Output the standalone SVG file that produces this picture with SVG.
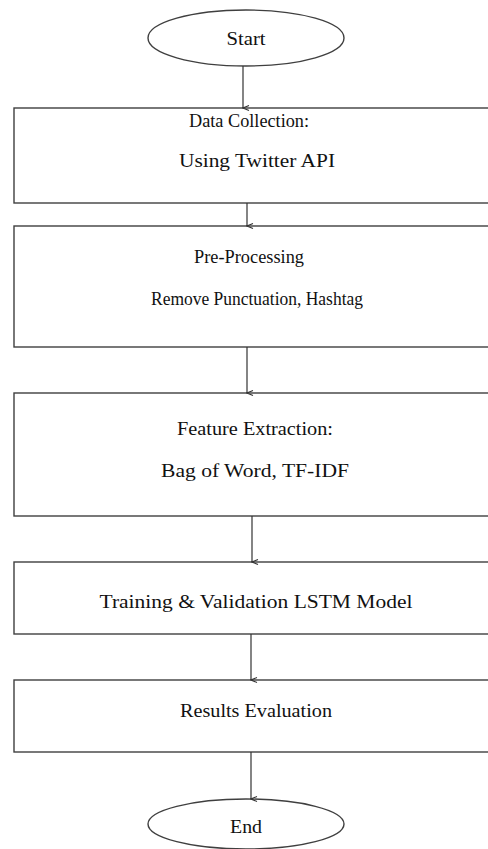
<svg xmlns="http://www.w3.org/2000/svg" width="488" height="849" viewBox="0 0 488 849">
<defs>
<marker id="arr" markerWidth="10" markerHeight="10" refX="5" refY="9" orient="auto-start-reverse" markerUnits="userSpaceOnUse" viewBox="0 0 10 10">
<polyline points="2.5,3 5,9 7.5,3" fill="none" stroke="#333" stroke-width="1.1"/>
</marker>
<style>
.box{fill:#fff;stroke:#3f3f3f;stroke-width:1.4}
.t{font-family:"Liberation Serif","Times New Roman",serif;font-size:18px;fill:#111;text-anchor:middle}
.c{stroke:#333;stroke-width:1.2;fill:none;marker-end:url(#arr)}
</style>
</defs>
<rect width="488" height="849" fill="#fff"/>
<g id="start">
<ellipse class="box" cx="246" cy="38" rx="98" ry="28"/>
<text class="t" x="246" y="45" textLength="39" lengthAdjust="spacingAndGlyphs">Start</text>
</g>
<g id="data-collection">
<rect class="box" x="14" y="108" width="490" height="95"/>
<text class="t" x="249" y="127" textLength="120" lengthAdjust="spacingAndGlyphs">Data Collection:</text>
<text class="t" x="257" y="167" textLength="156" lengthAdjust="spacingAndGlyphs">Using  Twitter  API</text>
</g>
<g id="pre-processing">
<rect class="box" x="14" y="226" width="490" height="121"/>
<text class="t" x="249" y="263" textLength="110" lengthAdjust="spacingAndGlyphs">Pre-Processing</text>
<text class="t" x="257" y="305" textLength="212" lengthAdjust="spacingAndGlyphs">Remove Punctuation,  Hashtag</text>
</g>
<g id="feature-extraction">
<rect class="box" x="14" y="393" width="490" height="123"/>
<text class="t" x="255" y="435" textLength="156" lengthAdjust="spacingAndGlyphs">Feature Extraction:</text>
<text class="t" x="255" y="477" textLength="188" lengthAdjust="spacingAndGlyphs">Bag of Word, TF-IDF</text>
</g>
<g id="training">
<rect class="box" x="14" y="562" width="490" height="72"/>
<text class="t" x="256" y="608" textLength="313" lengthAdjust="spacingAndGlyphs">Training  &amp; Validation  LSTM Model</text>
</g>
<g id="results">
<rect class="box" x="14" y="680" width="490" height="72"/>
<text class="t" x="256" y="717" textLength="152" lengthAdjust="spacingAndGlyphs">Results  Evaluation</text>
</g>
<g id="end">
<ellipse class="box" cx="246" cy="824" rx="98" ry="25"/>
<text class="t" x="246" y="833" textLength="32" lengthAdjust="spacingAndGlyphs">End</text>
</g>
<g id="connectors">
<line class="c" x1="243" y1="66" x2="243" y2="108"/>
<line class="c" x1="247" y1="203" x2="247" y2="226"/>
<line class="c" x1="247" y1="347" x2="247" y2="393"/>
<line class="c" x1="252" y1="516" x2="252" y2="562"/>
<line class="c" x1="251" y1="634" x2="251" y2="680"/>
<line class="c" x1="251" y1="752" x2="251" y2="799"/>
</g>
</svg>
